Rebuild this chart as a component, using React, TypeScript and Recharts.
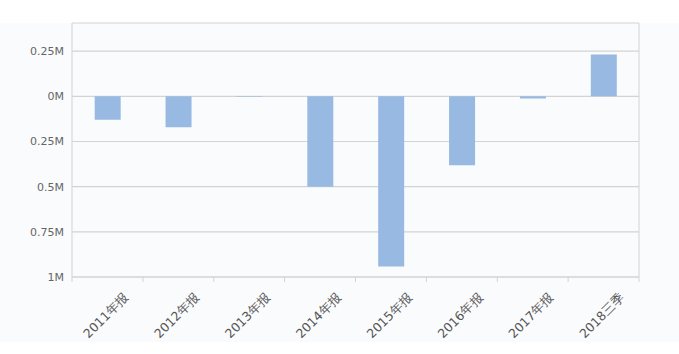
import React from "react";
import { BarChart, Bar, XAxis, YAxis, CartesianGrid } from "recharts";

const categories = ["2011年报", "2012年报", "2013年报", "2014年报", "2015年报", "2016年报", "2017年报", "2018三季"];
const values = [-129000, -171000, -2000, -501000, -942000, -381000, -12000, 231000];
const yTicks = [-1000000, -750000, -500000, -250000, 0, 250000];

const data = categories.map((label, i) => ({ label, value: values[i] }));

const fmt = (v: number) => `${Math.abs(v) / 1000000}M`;

const AXIS = "#d3d3d3";
const FONT = "'DejaVu Sans', Verdana, sans-serif";

function XTick(props: any) {
  const { x, y, payload, index } = props;
  const half = payload && payload.offset ? payload.offset : 35.4;
  const ax = x + 22;
  const ay = y + 13;
  return (
    <g>
      <line x1={x - half} y1={y - 8} x2={x - half} y2={y - 3} stroke={AXIS} />
      {index === categories.length - 1 && (
        <line x1={x + half} y1={y - 8} x2={x + half} y2={y - 3} stroke={AXIS} />
      )}
      <text
        x={ax}
        y={ay}
        textAnchor="end"
        fill="#555"
        fontSize={12.5}
        fontFamily={FONT}
        transform={`rotate(-45 ${ax} ${ay})`}
      >
        {payload.value}
      </text>
    </g>
  );
}

export default function App() {
  return (
    <div style={{ position: "absolute", left: 0, top: 0, width: 679, height: 354, background: "#fff" }}>
      <div style={{ position: "absolute", left: 0, top: 23, width: 679, height: 319, background: "#fafbfc" }} />
      <div style={{ position: "absolute", left: 0, top: 0 }}>
        <BarChart
          width={679}
          height={354}
          data={data}
          margin={{ top: 23, right: 0, left: 0, bottom: 0 }}
          barCategoryGap="32%"
        >
          <CartesianGrid vertical={false} stroke={AXIS} strokeWidth={1.2} />
          <XAxis
            dataKey="label"
            height={77}
            axisLine={{ stroke: AXIS }}
            tickLine={false}
            interval={0}
            tick={<XTick />}
          />
          <YAxis
            domain={[-1000000, 406000]}
            ticks={yTicks}
            tickFormatter={fmt}
            width={72}
            axisLine={{ stroke: AXIS }}
            tickLine={false}
            tick={{ fill: "#666", fontSize: 11, fontFamily: FONT }}
            allowDataOverflow
          />
          <YAxis
            yAxisId="r"
            orientation="right"
            width={40}
            axisLine={{ stroke: AXIS }}
            tickLine={false}
            tick={false}
          />
          <Bar dataKey="value" fill="#98bae2" isAnimationActive={false} />
        </BarChart>
      </div>
    </div>
  );
}
